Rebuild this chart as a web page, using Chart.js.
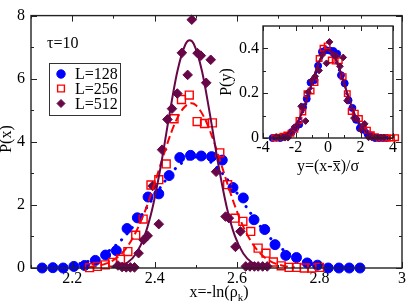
<!DOCTYPE html>
<html><head><meta charset="utf-8">
<script src="https://cdn.jsdelivr.net/npm/chart.js@4.4.1/dist/chart.umd.min.js"></script>
<style>
html,body{margin:0;padding:0;background:#fff;}
#wrap{position:relative;width:409px;height:308px;overflow:hidden;background:#fff;}
#wrap canvas{position:absolute;left:0;top:0;}
</style></head><body>
<div id="wrap"><canvas id="main" width="409" height="308"></canvas><canvas id="inset" width="409" height="308"></canvas></div>
<script>
// ---------- data ----------
const seriesLabels = ['L=128', 'L=256', 'L=512'];

const xBlue = [2.127,2.153,2.178,2.204,2.230,2.256,2.281,2.307,2.333,2.358,2.384,2.410,2.435,2.461,2.487,2.513,2.538,2.564,2.590,2.615,2.641,2.667,2.692,2.718,2.744,2.770,2.795,2.821,2.847,2.872,2.898];
const pBlue = [0,0.01,0,0.05,0.08,0.24,0.41,0.55,1.25,1.59,2.25,2.35,2.93,3.50,3.57,3.55,3.53,3.42,2.55,2.22,1.53,1.22,0.74,0.40,0.33,0.16,0.09,0,0,0,0];

const xRed = [2.242,2.261,2.280,2.298,2.317,2.335,2.354,2.372,2.391,2.410,2.428,2.447,2.465,2.484,2.503,2.521,2.540,2.558,2.577,2.595,2.614,2.633,2.651,2.670,2.688,2.707,2.726,2.744,2.763,2.781,2.800];
const pRed = [0.01,0.05,0.10,0.18,0.28,0.52,1.04,1.55,2.63,2.80,3.30,4.73,5.34,5.48,4.64,4.58,4.60,3.65,2.64,1.58,1.48,1.16,0.63,0.47,0.19,0.07,0.02,0.02,0,0,0.02];

const xPurple = [2.311,2.321,2.331,2.341,2.351,2.361,2.373,2.383,2.395,2.410,2.418,2.431,2.442,2.455,2.466,2.480,2.490,2.504,2.512,2.525,2.536,2.549,2.572,2.580,2.596,2.608,2.621,2.631,2.642,2.651,2.662,2.673];
const pPurple = [0.08,0.03,0.02,0.02,0.02,0.47,0.89,1.02,2.60,1.39,3.75,4.71,5.05,5.53,6.82,6.12,7.87,6.81,6.73,5.87,6.60,3.05,1.63,1.58,0.67,1.16,0.05,0.05,0.05,0.05,0.05,0.05];

// fitted curves
const fitBlueX = [2.20,2.25,2.28,2.31,2.34,2.37,2.40,2.43,2.46,2.50,2.54,2.57,2.60,2.63,2.66,2.69,2.72,2.75,2.78,2.81,2.85];
const fitBlueY = [0.08,0.26,0.46,0.77,1.19,1.71,2.29,2.84,3.27,3.52,3.32,2.91,2.37,1.79,1.26,0.82,0.50,0.28,0.14,0.07,0.02];
const fitRedX = [2.24,2.26,2.28,2.30,2.32,2.34,2.36,2.38,2.40,2.42,2.44,2.46,2.48,2.49,2.50,2.52,2.54,2.56,2.58,2.60,2.62,2.64,2.66,2.68,2.70,2.72,2.74];
const fitRedY = [0.03,0.06,0.13,0.25,0.46,0.80,1.29,1.92,2.69,3.51,4.29,4.88,5.19,5.22,5.16,4.78,4.14,3.35,2.53,1.78,1.17,0.72,0.41,0.22,0.11,0.05,0.02];
const fitPurpleX = [2.295,2.315,2.335,2.355,2.375,2.395,2.415,2.435,2.455,2.475,2.485,2.495,2.515,2.535,2.555,2.575,2.595,2.615,2.635,2.655,2.675];
const fitPurpleY = [0.02,0.06,0.18,0.46,1.00,1.92,3.24,4.80,6.23,7.10,7.22,7.10,6.23,4.80,3.24,1.92,1.00,0.46,0.18,0.06,0.02];

// centre and width of each distribution (for the rescaled inset)
const seriesMean = [2.502, 2.488, 2.485];
const seriesSigma = [0.11, 0.075, 0.0545];

// ticks
const mainXTicks = [2.2, 2.4, 2.6, 2.8, 3];
const mainXMinor = [2.1, 2.3, 2.5, 2.7, 2.9];
const mainYTicks = [0, 2, 4, 6, 8];
const mainYMinor = [1, 3, 5, 7];
const insetXTicks = [-4, -2, 0, 2, 4];
const insetXMinor = [-3, -1, 1, 3];
const insetYTicks = [0, 0.2, 0.4];
const insetYMinor = [0.1, 0.3];

// ---------- styling ----------
const FONT = 'Liberation Serif';
const BLUE = '#0000ff', RED = '#ff0000', PURPLE = '#670748', AXIS = '#222';

const pts = (xs, ys) => xs.map((x, i) => ({x: x, y: ys[i]}));
const scaled = (xs, ys, k) => xs.map((x, i) => ({x: (x - seriesMean[k]) / seriesSigma[k], y: ys[i] * seriesSigma[k]}));

function buildDatasets(inset) {
  const P = inset ? (xs, ys, k) => scaled(xs, ys, k) : (xs, ys) => pts(xs, ys);
  const s = inset ? 0.7 : 1;
  return [
    {label: seriesLabels[0], data: P(xBlue, pBlue, 0), showLine: false, pointStyle: 'circle', pointRadius: 5 * s,
     backgroundColor: BLUE, borderColor: BLUE, pointBorderWidth: 1, clip: false, order: 7},
    {label: seriesLabels[1], data: P(xRed, pRed, 1), showLine: false, pointStyle: 'rect', pointRadius: 5.6 * s,
     backgroundColor: 'rgba(0,0,0,0)', borderColor: RED, pointBorderWidth: 1.4, clip: false, order: 6},
    {label: seriesLabels[2], data: P(xPurple, pPurple, 2), showLine: false, pointStyle: 'rectRot', pointRadius: 4.8 * s,
     backgroundColor: PURPLE, borderColor: PURPLE, pointBorderWidth: 1, clip: false, order: 5},
    {label: 'fit128', data: P(fitBlueX, fitBlueY, 0), showLine: true, pointRadius: 0, borderColor: BLUE,
     borderWidth: 3, borderDash: [0.1, 8], borderCapStyle: 'round', cubicInterpolationMode: 'monotone', order: 4},
    {label: 'fit256', data: P(fitRedX, fitRedY, 1), showLine: true, pointRadius: 0, borderColor: RED,
     borderWidth: 2, borderDash: [8, 4], cubicInterpolationMode: 'monotone', order: 3},
    {label: 'fit512', data: P(fitPurpleX, fitPurpleY, 2), showLine: true, pointRadius: 0, borderColor: PURPLE,
     borderWidth: 2, cubicInterpolationMode: 'monotone', order: 2}
  ];
}

function frameAndTicks(chart, xMaj, xMin, yMaj, yMin, majLen, minLen) {
  const ctx = chart.ctx, a = chart.chartArea, sx = chart.scales.x, sy = chart.scales.y;
  ctx.save();
  ctx.strokeStyle = AXIS;
  ctx.lineWidth = 1;
  ctx.beginPath();
  const tx = (v, len) => { const p = Math.round(sx.getPixelForValue(v)) + 0.5;
    ctx.moveTo(p, a.bottom); ctx.lineTo(p, a.bottom - len); ctx.moveTo(p, a.top); ctx.lineTo(p, a.top + len); };
  const ty = (v, len) => { const p = Math.round(sy.getPixelForValue(v)) + 0.5;
    ctx.moveTo(a.left, p); ctx.lineTo(a.left + len, p); ctx.moveTo(a.right, p); ctx.lineTo(a.right - len, p); };
  xMaj.forEach(v => tx(v, majLen)); xMin.forEach(v => tx(v, minLen));
  yMaj.forEach(v => ty(v, majLen)); yMin.forEach(v => ty(v, minLen));
  ctx.stroke();
  ctx.lineWidth = 1.4;
  ctx.strokeRect(a.left, a.top, a.right - a.left, a.bottom - a.top);
  ctx.restore();
}

function marker(ctx, style, r, fill, stroke, bw, x, y) {
  ctx.save();
  ctx.fillStyle = fill; ctx.strokeStyle = stroke; ctx.lineWidth = bw;
  if (Chart.helpers && Chart.helpers.drawPoint) {
    Chart.helpers.drawPoint(ctx, {pointStyle: style, radius: r, borderWidth: bw, rotation: 0}, x, y);
  }
  ctx.restore();
}

const mainDecor = {
  id: 'mainDecor',
  afterDraw(chart) {
    const ctx = chart.ctx;
    frameAndTicks(chart, mainXTicks, mainXMinor, mainYTicks, mainYMinor, 6, 3);
    ctx.save();
    ctx.fillStyle = '#000';
    // tau label
    ctx.font = '16px "' + FONT + '"';
    ctx.textAlign = 'left'; ctx.textBaseline = 'alphabetic';
    ctx.fillText('\u03c4=10', 47, 48);
    // legend
    ctx.strokeStyle = '#333'; ctx.lineWidth = 1;
    ctx.strokeRect(49.5, 63.5, 71, 52);
    const rows = [74, 88.5, 103.5];
    marker(ctx, 'circle', 4.2, BLUE, BLUE, 1, 61, rows[0]);
    marker(ctx, 'rect', 4.8, 'rgba(0,0,0,0)', RED, 1.4, 61, rows[1]);
    marker(ctx, 'rectRot', 4, PURPLE, PURPLE, 1, 61, rows[2]);
    ctx.fillStyle = '#000';
    ctx.font = '16px "' + FONT + '"';
    seriesLabels.forEach((t, i) => ctx.fillText(t, 75, rows[i] + 5));
    // y title
    ctx.save();
    ctx.translate(11, 139); ctx.rotate(-Math.PI / 2);
    ctx.textAlign = 'center';
    ctx.fillText('P(x)', 0, 0);
    ctx.restore();
    // x title with subscript
    const f1 = '16px "' + FONT + '"', f2 = '11px "' + FONT + '"';
    ctx.font = f1; const w1 = ctx.measureText('x=-ln(\u03c1').width, w3 = ctx.measureText(')').width;
    ctx.font = f2; const w2 = ctx.measureText('k').width;
    let x0 = 219 - (w1 + w2 + w3) / 2, by = 297;
    ctx.textAlign = 'left';
    ctx.font = f1; ctx.fillText('x=-ln(\u03c1', x0, by);
    ctx.font = f2; ctx.fillText('k', x0 + w1, by + 4);
    ctx.font = f1; ctx.fillText(')', x0 + w1 + w2, by);
    ctx.restore();
  }
};

const insetDecor = {
  id: 'insetDecor',
  beforeDatasetsDraw(chart) {
    const ctx = chart.ctx, a = chart.chartArea;
    ctx.save(); ctx.fillStyle = '#fff';
    ctx.fillRect(a.left, a.top, a.right - a.left, a.bottom - a.top);
    ctx.restore();
  },
  afterDraw(chart) {
    const ctx = chart.ctx;
    frameAndTicks(chart, insetXTicks, insetXMinor, insetYTicks, insetYMinor, 5, 3);
    ctx.save();
    ctx.fillStyle = '#000';
    const f1 = '16px "' + FONT + '"';
    ctx.font = f1;
    ctx.save();
    ctx.translate(231, 82); ctx.rotate(-Math.PI / 2);
    ctx.textAlign = 'center';
    ctx.fillText('P(y)', 0, 0);
    ctx.restore();
    // y=(x-x̄)/σ
    const a1 = 'y=(x-', a2 = 'x', a3 = ')/\u03c3';
    const w1 = ctx.measureText(a1).width, w2 = ctx.measureText(a2).width, w3 = ctx.measureText(a3).width;
    const x0 = 328 - (w1 + w2 + w3) / 2, by = 171;
    ctx.textAlign = 'left';
    ctx.fillText(a1, x0, by);
    ctx.fillText(a2, x0 + w1, by);
    ctx.fillText(a3, x0 + w1 + w2, by);
    ctx.strokeStyle = '#000'; ctx.lineWidth = 1;
    ctx.beginPath(); ctx.moveTo(x0 + w1 + 0.5, 161.5); ctx.lineTo(x0 + w1 + w2 - 0.5, 161.5); ctx.stroke();
    ctx.restore();
  }
};

function scaleOpts(min, max, ticks, isX, size, pad, fmt) {
  return {
    type: 'linear', min: min, max: max,
    afterFit(s) { if (isX) s.height = size; else s.width = size; },
    afterBuildTicks(s) { s.ticks = ticks.map(v => ({value: v})); },
    grid: {display: false, drawTicks: false},
    border: {display: false},
    ticks: {font: {family: FONT, size: 16}, color: '#000', padding: pad, autoSkip: false, maxRotation: 0,
            callback: fmt}
  };
}

const common = {
  responsive: false, animation: false, devicePixelRatio: 1, events: [],
  plugins: {legend: {display: false}, tooltip: {enabled: false}}
};

new Chart(document.getElementById('main'), {
  type: 'scatter',
  data: {datasets: buildDatasets(false)},
  options: Object.assign({}, common, {
    layout: {padding: {left: 0, top: 8, right: 5, bottom: 0}},
    scales: {
      x: scaleOpts(2.1, 3.0, mainXTicks, true, 40, 1, v => String(v)),
      y: scaleOpts(0, 8, mainYTicks, false, 31, 6, v => String(v))
    }
  }),
  plugins: [mainDecor]
});

new Chart(document.getElementById('inset'), {
  type: 'scatter',
  data: {datasets: buildDatasets(true)},
  options: Object.assign({}, common, {
    layout: {padding: {left: 233, top: 26, right: 16, bottom: 150}},
    scales: {
      x: scaleOpts(-4, 4, insetXTicks, true, 20, 0, v => String(v)),
      y: scaleOpts(0, 0.5, insetYTicks, false, 30, 4, v => String(v))
    }
  }),
  plugins: [insetDecor]
});
</script>
</body></html>
